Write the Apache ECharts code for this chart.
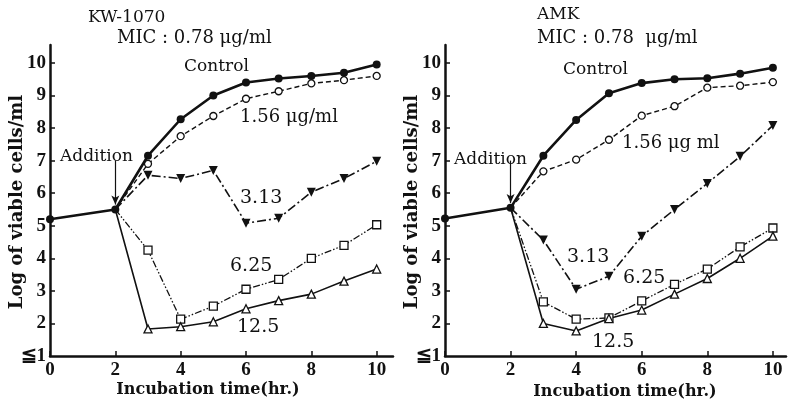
<!DOCTYPE html>
<html>
<head>
<meta charset="utf-8">
<script src="https://cdn.jsdelivr.net/npm/echarts@6/dist/echarts.min.js"></script>
<style>
  html, body { margin: 0; padding: 0; background: #fff; }
  #chart { width: 789px; height: 403px; }
</style>
</head>
<body>
<div id="chart"></div>
<script>
// hours before and after addition
const preHours = [0, 2]
const postHours = [3, 4, 5, 6, 7, 8, 9, 10]
const xTicks = [0, 2, 4, 6, 8, 10]
const yTicks = [1, 2, 3, 4, 5, 6, 7, 8, 9, 10]

// KW-1070 panel
const kwPre = [5.2, 5.5]
const kwControl = [7.15, 8.27, 9.0, 9.4, 9.52, 9.6, 9.7, 9.95]
const kw156 = [6.9, 7.75, 8.37, 8.9, 9.13, 9.37, 9.47, 9.6]
const kw313 = [6.55, 6.45, 6.7, 5.08, 5.23, 6.03, 6.45, 6.98]
const kw625 = [4.25, 2.13, 2.53, 3.05, 3.35, 4.0, 4.4, 5.03]
const kw125 = [1.83, 1.9, 2.05, 2.45, 2.7, 2.9, 3.3, 3.67]

// AMK panel
const amkPre = [5.22, 5.55]
const amkControl = [7.15, 8.25, 9.07, 9.38, 9.5, 9.53, 9.67, 9.85]
const amk156 = [6.67, 7.03, 7.64, 8.38, 8.67, 9.24, 9.3, 9.41]
const amk313 = [4.56, 3.05, 3.45, 4.68, 5.5, 6.3, 7.13, 8.08]
const amk625 = [2.66, 2.13, 2.17, 2.69, 3.2, 3.67, 4.35, 4.93]
const amk125 = [2.0, 1.77, 2.15, 2.41, 2.9, 3.38, 4.0, 4.68]

const serif = '"DejaVu Serif", "Liberation Serif", serif'
const tickFont = '"Liberation Serif", "DejaVu Serif", serif'
const ink = '#111'

const chart = echarts.init(document.getElementById('chart'))

function controlData(pre, post) {
  return preHours.map((h, i) => [h, pre[i]]).concat(postHours.map((h, i) => [h, post[i]]))
}

// start at the addition point, no marker there
function doseData(pre, post) {
  return [{ value: [2, pre[1]], symbol: 'none' }].concat(postHours.map((h, i) => [h, post[i]]))
}

const openStyle = { color: '#fff', borderColor: ink, borderWidth: 1.3 }

function panelSeries(idx, pre, ctrl, s156, s313, s625, s125) {
  const base = { type: 'line', xAxisIndex: idx, yAxisIndex: idx, animation: false, silent: true, z: 3 }
  return [
    {
      ...base, name: 'Control', data: controlData(pre, ctrl),
      symbol: 'circle', symbolSize: 8,
      lineStyle: { color: ink, width: 2.6 },
      itemStyle: { color: ink },
      z: 5,
      markLine: {
        silent: true, symbol: ['none', 'arrow'], symbolSize: [6, 9],
        lineStyle: { color: ink, width: 1.2, type: 'solid' },
        label: { show: false },
        data: [[{ coord: [2, 7.0] }, { coord: [2, pre[1] + 0.15] }]],
      },
    },
    {
      ...base, name: '1.56', data: doseData(pre, s156),
      symbol: 'circle', symbolSize: 7,
      lineStyle: { color: ink, width: 1.4, type: [5, 3] },
      itemStyle: openStyle,
    },
    {
      ...base, name: '3.13', data: doseData(pre, s313),
      symbol: 'triangle', symbolRotate: 180, symbolSize: 9,
      lineStyle: { color: ink, width: 1.6, type: [9, 3, 2, 3] },
      itemStyle: { color: ink },
    },
    {
      ...base, name: '6.25', data: doseData(pre, s625),
      symbol: 'rect', symbolSize: 8,
      lineStyle: { color: ink, width: 1.3, type: [7, 2, 1.5, 2, 1.5, 2] },
      itemStyle: openStyle,
    },
    {
      ...base, name: '12.5', data: doseData(pre, s125),
      symbol: 'triangle', symbolSize: 8,
      lineStyle: { color: ink, width: 1.6 },
      itemStyle: openStyle,
    },
  ]
}

function xAxisOf(idx, max) {
  return {
    type: 'value', gridIndex: idx, min: 0, max: max,
    axisLine: { lineStyle: { color: ink, width: 2.5 } },
    axisTick: { inside: true, length: 5, customValues: xTicks, lineStyle: { color: ink, width: 1.5 } },
    axisLabel: {
      customValues: xTicks, margin: 5,
      color: ink, fontFamily: tickFont, fontWeight: 'bold', fontSize: 19,
    },
    splitLine: { show: false },
  }
}

function yAxisOf(idx) {
  return {
    type: 'value', gridIndex: idx, min: 1, max: 10.55,
    axisLine: { show: true, lineStyle: { color: ink, width: 2.5 } },
    axisTick: { show: true, inside: true, length: 5, customValues: yTicks.slice(1), lineStyle: { color: ink, width: 1.5 } },
    axisLabel: {
      customValues: yTicks, margin: 4,
      color: ink, fontFamily: tickFont, fontWeight: 'bold', fontSize: 19,
      formatter: v => (v === 1 ? '≦1' : String(v)),
    },
    splitLine: { show: false },
  }
}

function txt(x, y, text, size, extra, rotation) {
  return {
    type: 'text', x: x, y: y, rotation: rotation || 0, silent: true,
    style: Object.assign({
      text: text, fill: ink, fontFamily: serif, fontSize: size,
      verticalAlign: 'middle', align: 'left',
    }, extra || {}),
  }
}

const boldC = { fontWeight: 'bold', align: 'center' }

const option = {
  backgroundColor: '#fff',
  animation: false,
  grid: [
    { left: 50, top: 45, width: 343, height: 311 },
    { left: 445, top: 45, width: 341, height: 311 },
  ],
  xAxis: [xAxisOf(0, 10.5), xAxisOf(1, 10.4)],
  yAxis: [yAxisOf(0), yAxisOf(1)],
  series: [
    ...panelSeries(0, kwPre, kwControl, kw156, kw313, kw625, kw125),
    ...panelSeries(1, amkPre, amkControl, amk156, amk313, amk625, amk125),
  ],
  graphic: [
    // left panel
    txt(88, 18, 'KW-1070', 17),
    txt(117, 38, 'MIC : 0.78 μg/ml', 18),
    txt(184, 67, 'Control', 17),
    txt(240, 117, '1.56 μg/ml', 18),
    txt(60, 157, 'Addition', 17),
    txt(240, 198, '3.13', 19),
    txt(230, 266, '6.25', 19),
    txt(237, 327, '12.5', 19),
    txt(17, 202, 'Log of viable cells/ml', 18, boldC, Math.PI / 2),
    txt(208, 390, 'Incubation time(hr.)', 16, boldC),
    // right panel
    txt(537, 15, 'AMK', 17),
    txt(537, 38, 'MIC : 0.78  μg/ml', 18),
    txt(563, 70, 'Control', 17),
    txt(622, 143, '1.56 μg ml', 18),
    txt(454, 160, 'Addition', 17),
    txt(567, 257, '3.13', 19),
    txt(623, 278, '6.25', 19),
    txt(592, 342, '12.5', 19),
    txt(412, 202, 'Log of viable cells/ml', 18, boldC, Math.PI / 2),
    txt(625, 392, 'Incubation time(hr.)', 16, boldC),
  ],
}

chart.setOption(option)
</script>
</body>
</html>
